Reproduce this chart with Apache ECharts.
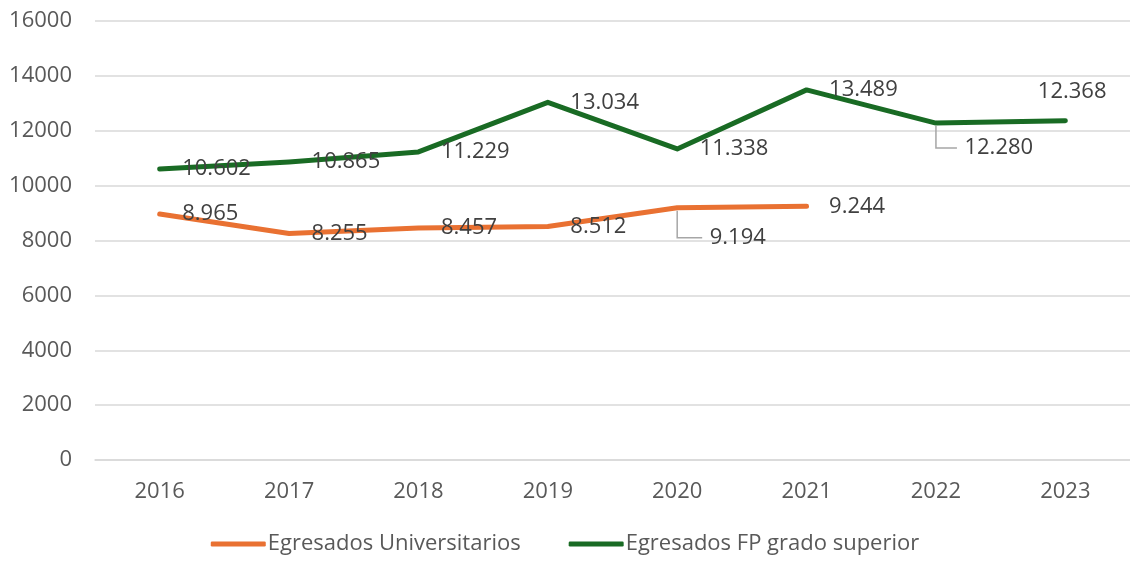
<!DOCTYPE html>
<html>
<head>
<meta charset="utf-8">
<script src="https://cdn.jsdelivr.net/npm/echarts@6/dist/echarts.min.js"></script>
<style>
  html, body { margin: 0; padding: 0; background: #fff; }
  #chart { width: 1130px; height: 562px; }
</style>
</head>
<body>
<div id="chart"></div>
<script>
const years = ['2016', '2017', '2018', '2019', '2020', '2021', '2022', '2023'];
const universitarios = [8965, 8255, 8457, 8512, 9194, 9244, null, null];
const fpSuperior = [10602, 10865, 11229, 13034, 11338, 13489, 12280, 12368];
const seriesNames = ['Egresados Universitarios', 'Egresados FP grado superior'];

// labels Excel moved by hand: [seriesIndex, dataIndex] -> shift, leader line
const movedLabels = {
  '0-4': { dx: 10, dy: 30, line: true },
  '1-6': { dx: 6, dy: 25, line: true },
  '1-7': { dx: -50, dy: -29, line: false }
};

const labelDistance = 22;
const fmt = (v) => v.toLocaleString('de-DE');
const font = 'Open Sans';

const chart = echarts.init(document.getElementById('chart'));

function lineSeries(name, values, color) {
  return {
    name: name,
    type: 'line',
    data: values,
    symbol: 'circle',
    symbolSize: 1,
    showSymbol: true,
    connectNulls: false,
    lineStyle: { width: 5, color: color, cap: 'round', join: 'round' },
    itemStyle: { color: color },
    label: {
      show: true,
      position: 'right',
      distance: labelDistance,
      fontFamily: font,
      fontSize: 22,
      color: '#404040',
      formatter: (p) => fmt(p.value)
    },
    emphasis: { disabled: true }
  };
}

chart.setOption({
  animation: false,
  grid: { left: 95, top: 21, width: 1044, height: 439, containLabel: false },
  legend: {
    bottom: 2,
    left: 'center',
    itemWidth: 55,
    itemHeight: 5,
    itemGap: 48,
    icon: 'roundRect',
    textStyle: { fontFamily: font, fontSize: 22, color: '#595959', padding: [0, 0, 0, -3] },
    data: seriesNames
  },
  xAxis: {
    type: 'category',
    data: years,
    boundaryGap: true,
    axisLine: { lineStyle: { color: '#d9d9d9', width: 1.5 } },
    axisTick: { show: false },
    axisLabel: { margin: 21, fontFamily: font, fontSize: 22, color: '#595959' }
  },
  yAxis: {
    type: 'value',
    min: 0,
    max: 16000,
    interval: 2000,
    axisLine: { show: false },
    axisTick: { show: false },
    splitLine: { lineStyle: { color: '#d9d9d9', width: 1.5 } },
    axisLabel: {
      margin: 23,
      fontFamily: font,
      fontSize: 22,
      color: '#595959',
      formatter: (v) => String(v)
    }
  },
  labelLayout: (params) => {
    const m = movedLabels[params.seriesIndex + '-' + params.dataIndex];
    if (m) return { dx: m.dx, dy: m.dy };
    return {};
  },
  series: [
    lineSeries(seriesNames[0], universitarios, '#E97132'),
    lineSeries(seriesNames[1], fpSuperior, '#196B24')
  ]
});

// elbow leader lines for the moved labels, placed from the series' own scale
const seriesValues = [universitarios, fpSuperior];
const leaders = [];
Object.keys(movedLabels).forEach((key) => {
  const m = movedLabels[key];
  if (!m.line) return;
  const [s, i] = key.split('-').map(Number);
  const [ax, ay] = chart.convertToPixel({ seriesIndex: s }, [i, seriesValues[s][i]]);
  const ly = ay + m.dy;
  const lx = ax + labelDistance + m.dx - 7;
  leaders.push({
    type: 'polyline',
    silent: true,
    z: 1,
    shape: { points: [[ax, ay + 3], [ax, ly], [lx, ly]] },
    style: { stroke: '#a6a6a6', lineWidth: 1.5, fill: null }
  });
});
chart.setOption({ graphic: leaders });
</script>
</body>
</html>
